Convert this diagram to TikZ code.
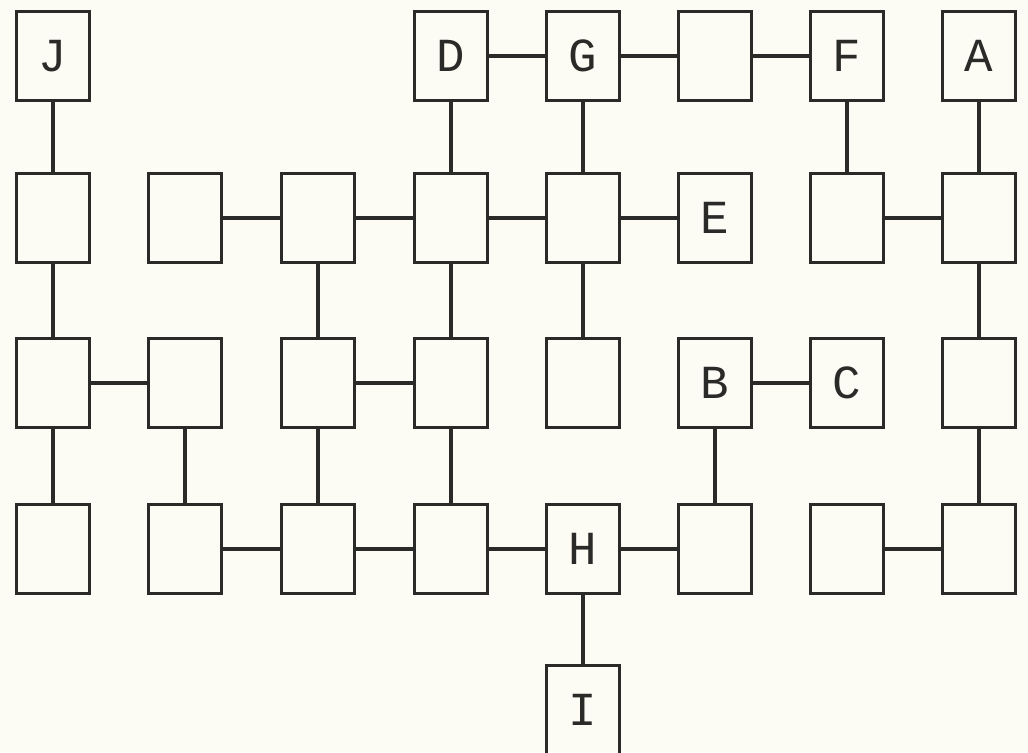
\documentclass[tikz,border=0pt]{standalone}
\usepackage{fontspec}
\setmonofont{Liberation Mono}
\definecolor{ink}{HTML}{2A2A28}
\definecolor{paper}{HTML}{FCFBF4}
\begin{document}
\begin{tikzpicture}[x=0.02cm,y=-0.02cm,
  box/.style={draw=ink, line width=2pt, minimum width=1.46cm, minimum height=1.78cm,
    inner sep=0pt, font=\ttfamily\fontsize{27}{27}\selectfont, text=ink},
  link/.style={draw=ink, line width=2pt}]
\fill[paper] (0,0) rectangle (1028,752);
\useasboundingbox (0,0) rectangle (1028,752);
% row 0
\node[box] (n00) at (53,56) {J};
\node[box] (n03) at (451,56) {D};
\node[box] (n04) at (583,56) {G};
\node[box] (n05) at (715,56) {};
\node[box] (n06) at (847,56) {F};
\node[box] (n07) at (979,56) {A};
% row 1
\node[box] (n10) at (53,218) {};
\node[box] (n11) at (185,218) {};
\node[box] (n12) at (318,218) {};
\node[box] (n13) at (451,218) {};
\node[box] (n14) at (583,218) {};
\node[box] (n15) at (715,218) {E};
\node[box] (n16) at (847,218) {};
\node[box] (n17) at (979,218) {};
% row 2
\node[box] (n20) at (53,383) {};
\node[box] (n21) at (185,383) {};
\node[box] (n22) at (318,383) {};
\node[box] (n23) at (451,383) {};
\node[box] (n24) at (583,383) {};
\node[box] (n25) at (715,383) {B};
\node[box] (n26) at (847,383) {C};
\node[box] (n27) at (979,383) {};
% row 3
\node[box] (n30) at (53,549) {};
\node[box] (n31) at (185,549) {};
\node[box] (n32) at (318,549) {};
\node[box] (n33) at (451,549) {};
\node[box] (n34) at (583,549) {H};
\node[box] (n35) at (715,549) {};
\node[box] (n36) at (847,549) {};
\node[box] (n37) at (979,549) {};
% row 4
\node[box] (n44) at (583,710) {I};
% horizontal links
\draw[link] (n03) -- (n04);
\draw[link] (n04) -- (n05);
\draw[link] (n05) -- (n06);
\draw[link] (n11) -- (n12);
\draw[link] (n12) -- (n13);
\draw[link] (n13) -- (n14);
\draw[link] (n14) -- (n15);
\draw[link] (n16) -- (n17);
\draw[link] (n20) -- (n21);
\draw[link] (n22) -- (n23);
\draw[link] (n25) -- (n26);
\draw[link] (n31) -- (n32);
\draw[link] (n32) -- (n33);
\draw[link] (n33) -- (n34);
\draw[link] (n34) -- (n35);
\draw[link] (n36) -- (n37);
% vertical links
\draw[link] (n00) -- (n10);
\draw[link] (n03) -- (n13);
\draw[link] (n04) -- (n14);
\draw[link] (n06) -- (n16);
\draw[link] (n07) -- (n17);
\draw[link] (n10) -- (n20);
\draw[link] (n12) -- (n22);
\draw[link] (n13) -- (n23);
\draw[link] (n14) -- (n24);
\draw[link] (n17) -- (n27);
\draw[link] (n20) -- (n30);
\draw[link] (n21) -- (n31);
\draw[link] (n22) -- (n32);
\draw[link] (n23) -- (n33);
\draw[link] (n25) -- (n35);
\draw[link] (n27) -- (n37);
\draw[link] (n34) -- (n44);
\end{tikzpicture}
\end{document}
